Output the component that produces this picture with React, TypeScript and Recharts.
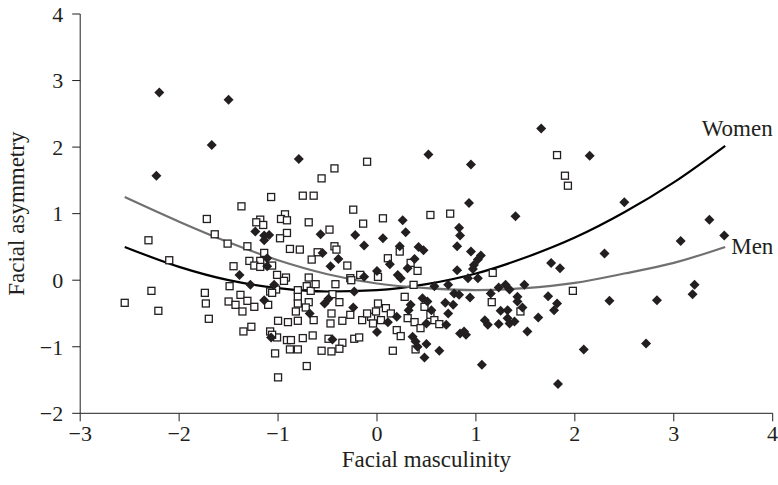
import React from 'react';
import { ComposedChart, Scatter, Line, XAxis, YAxis } from 'recharts';

// open squares
const womenPoints: [number, number][] = [
  [-1.07, 1.25], [-1.37, 1.11], [-1.72, 0.92], [-2.31, 0.6], [-2.1, 0.3], [-1.64, 0.69], [-1.51, 0.55],
  [-1.31, 0.51], [-1.45, 0.21], [-1.18, 0.91], [-1.22, 0.87], [-1.15, 0.83], [-1.14, 0.41], [-1.29, 0.29],
  [-1.18, 0.29], [-1.24, 0.22], [-1.18, 0.2], [-1.06, 0.22], [-1.01, 0.08],
  [-2.28, -0.16], [-2.55, -0.34], [-2.21, -0.46], [-1.74, -0.19], [-1.73, -0.35], [-1.7, -0.58], [-1.49, -0.09],
  [-1.08, -0.17], [-1.02, -0.14], [-1.5, -0.32], [-1.43, -0.37], [-1.38, -0.22], [-1.31, -0.31], [-1.36, -0.47],
  [-1.24, -0.4], [-1.1, -0.37], [-1.35, -0.77], [-1.27, -0.7], [-1.0, -0.61], [-1.08, -0.77], [-1.01, -0.86],
  [-1.03, -1.1], [-1.0, -1.46],
  [-0.43, 1.68], [-0.1, 1.78], [-0.56, 1.53], [-0.75, 1.27], [-0.64, 1.27], [-0.24, 1.06], [-0.14, 0.85],
  [0.06, 0.93], [-0.93, 0.99], [-0.97, 0.92], [-0.91, 0.9], [-0.69, 0.87], [-0.91, 0.71], [-0.98, 0.63],
  [-0.48, 0.76], [-0.88, 0.47], [-0.78, 0.46], [-0.6, 0.42], [-0.66, 0.31], [-0.43, 0.51], [-0.41, 0.46],
  [-0.3, 0.22], [0.23, 0.43], [0.11, 0.33], [0.34, 0.26], [0.41, 0.14], [-0.17, 0.08], [-0.27, 0.03],
  [0.01, 0.05], [-0.69, 0.04], [-0.92, 0.04],
  [-0.94, -0.01], [-1.06, -0.19], [-0.8, -0.15], [-0.71, -0.09], [-0.67, -0.16], [-0.62, -0.06], [-0.8, -0.25],
  [-0.8, -0.35], [-0.69, -0.33], [-0.72, -0.41], [-0.82, -0.47], [-0.45, -0.21], [-0.42, -0.06], [-0.38, -0.33],
  [-0.26, 0.0], [-0.64, -0.6], [-0.9, -0.63], [-0.8, -0.61], [-0.46, -0.5], [-0.47, -0.65], [-0.35, -0.61],
  [-0.27, -0.52], [-0.15, -0.6], [-0.06, -0.55], [-0.1, -0.5], [-0.01, -0.47], [0.01, -0.35], [-0.04, -0.65],
  [0.04, -0.6], [0.09, -0.42], [0.14, -0.5], [0.31, -0.57], [0.38, -0.63], [0.28, -0.25], [0.37, -0.07],
  [0.2, -0.75], [0.24, -0.84], [0.16, -1.06], [-1.06, -0.82], [-0.91, -0.9], [-0.87, -0.9], [-0.75, -0.87],
  [-0.65, -0.83], [-0.49, -0.88], [-0.35, -0.94], [-0.23, -0.88], [-0.18, -0.86], [-0.88, -1.04], [-0.8, -1.04],
  [-0.56, -1.06], [-0.46, -1.07], [-0.38, -1.03], [-0.71, -1.29],
  [1.82, 1.88], [0.54, 0.98], [0.74, 1.0], [1.17, 0.11], [1.16, -0.33], [1.45, -0.47], [0.48, -0.4],
  [0.54, -0.52], [0.44, -0.72], [0.58, -0.6], [0.63, -0.66], [0.39, -1.04], [1.9, 1.57], [1.93, 1.42],
  [1.98, -0.16],
];

// filled diamonds
const menPoints: [number, number][] = [
  [-2.2, 2.82], [-1.5, 2.71], [-1.67, 2.03], [1.66, 2.28],
  [-2.23, 1.57], [-1.39, 0.08], [-1.23, 0.73], [-1.14, 0.67], [-1.09, 0.68], [-1.14, 0.6], [-1.11, 0.33],
  [-1.11, 0.21], [-1.28, -0.07], [-1.04, -0.07], [-1.14, -0.3], [-1.07, -0.86],
  [-0.79, 1.82], [0.26, 0.9], [0.29, 0.72], [-0.57, 0.69], [-0.22, 0.68], [0.06, 0.63], [-0.13, 0.52],
  [-0.55, 0.41], [-0.39, 0.32], [-0.47, 0.21], [0.23, 0.51], [0.42, 0.5], [0.13, 0.24], [0.38, 0.32],
  [0.31, 0.18], [0.21, 0.08], [0.24, 0.03], [0.0, 0.14], [-0.13, 0.05],
  [-0.53, -0.35], [-0.49, -0.28], [-0.23, -0.17], [-0.24, -0.41], [-0.68, -0.5], [0.11, -0.63], [0.2, -0.55],
  [0.32, -0.45], [0.34, -0.37], [0.0, -0.78], [0.36, -0.85], [0.41, -1.0], [-0.45, -0.89],
  [0.52, 1.89], [0.95, 1.74], [0.93, 1.16], [1.4, 0.96], [0.83, 0.79], [0.84, 0.67], [0.81, 0.51],
  [0.47, 0.45], [0.95, 0.43], [1.05, 0.37], [1.02, 0.31], [0.98, 0.23], [0.97, 0.17], [0.81, 0.15],
  [1.76, 0.26], [1.85, 0.18], [0.92, 0.03], [1.02, 0.03],
  [0.58, -0.09], [0.72, -0.07], [1.23, -0.11], [1.3, -0.07], [1.34, -0.14], [1.49, -0.07], [0.78, -0.2],
  [0.83, -0.22], [0.94, -0.26], [1.15, -0.2], [1.42, -0.25], [1.42, -0.32], [1.47, -0.41], [1.73, -0.24],
  [1.82, -0.35], [1.79, -0.45], [0.46, -0.27], [0.51, -0.32], [0.55, -0.45], [0.69, -0.34], [0.77, -0.37],
  [0.72, -0.5], [0.7, -0.67], [0.5, -0.65], [1.25, -0.46], [1.32, -0.45], [1.32, -0.57], [1.39, -0.62],
  [1.34, -0.65], [1.63, -0.56], [1.09, -0.6], [1.12, -0.67], [1.23, -0.66], [1.52, -0.77], [0.84, -0.8],
  [0.9, -0.82], [0.88, -0.77], [0.39, -0.92], [0.5, -0.96], [0.63, -1.06], [0.48, -1.16], [1.06, -1.27],
  [1.83, -1.56],
  [2.15, 1.87], [2.5, 1.17], [3.36, 0.91], [3.51, 0.67], [3.07, 0.59], [2.3, 0.4],
  [2.35, -0.31], [2.83, -0.3], [3.21, -0.07], [3.19, -0.21], [2.09, -1.04], [2.72, -0.95],
];

// fitted curves
const curveX = [-2.55, -2, -1.5, -1, -0.5, 0, 0.5, 1, 1.5, 2, 2.5, 3, 3.52];
const womenCurveY = [0.5, 0.2, 0.0, -0.12, -0.17, -0.15, -0.06, 0.1, 0.34, 0.64, 1.02, 1.47, 2.02];
const menCurveY = [1.25, 0.88, 0.57, 0.3, 0.09, -0.05, -0.12, -0.15, -0.12, -0.04, 0.1, 0.26, 0.5];

const xTicks = [-3, -2, -1, 0, 1, 2, 3, 4];
const yTicks = [-2, -1, 0, 1, 2, 3, 4];

const ink = '#231f20';
const font = '"Liberation Serif", "DejaVu Serif", serif';

const womenData = womenPoints.map(([x, y]) => ({ x, y }));
const menData = menPoints.map(([x, y]) => ({ x, y }));
const womenCurve = curveX.map((x, i) => ({ x, y: womenCurveY[i] }));
const menCurve = curveX.map((x, i) => ({ x, y: menCurveY[i] }));

const minus = (v: number) => (v < 0 ? `\u2212${Math.abs(v)}` : `${v}`);

const Square = (props: any) => {
  const { cx, cy } = props;
  if (cx == null || cy == null) return null;
  return <rect x={cx - 3.5} y={cy - 3.5} width={7} height={7} fill="#fff" stroke={ink} strokeWidth={1.3} />;
};

const Diamond = (props: any) => {
  const { cx, cy } = props;
  if (cx == null || cy == null) return null;
  const r = 5;
  return <polygon points={`${cx},${cy - r} ${cx + r},${cy} ${cx},${cy + r} ${cx - r},${cy}`} fill={ink} />;
};

const endLabel = (text: string, dx: number, dy: number, anchor: string) => (props: any) => {
  const { x, y, index } = props;
  if (index !== curveX.length - 1) return null;
  return (
    <text x={x + dx} y={y + dy} textAnchor={anchor} fontFamily={font} fontSize={23} fill={ink}>
      {text}
    </text>
  );
};

export default function App() {
  return (
    <div style={{ position: 'absolute', left: 0, top: 0, width: 778, height: 485 }}>
      <ComposedChart
        width={778}
        height={485}
        margin={{ top: 14, right: 5.3, bottom: 21.7, left: 20.2 }}
        style={{ overflow: 'visible' }}
      >
        <XAxis
          type="number"
          dataKey="x"
          domain={[-3, 4]}
          ticks={xTicks}
          height={50}
          stroke={ink}
          tickSize={8}
          tickMargin={4}
          tick={{ fill: ink, fontSize: 22, fontFamily: font }}
          tickFormatter={minus}
          label={{ value: 'Facial masculinity', position: 'insideBottom', offset: -4, fill: ink, fontSize: 23, fontFamily: font }}
        />
        <YAxis
          type="number"
          dataKey="y"
          domain={[-2, 4]}
          ticks={yTicks}
          width={60}
          stroke={ink}
          tickSize={8}
          tickMargin={9}
          tick={{ fill: ink, fontSize: 22, fontFamily: font }}
          tickFormatter={minus}
          label={{ value: 'Facial asymmetry', angle: -90, position: 'insideLeft', offset: -4, fill: ink, fontSize: 23, fontFamily: font, style: { textAnchor: 'middle' } }}
        />
        <Scatter data={womenData} shape={<Square />} isAnimationActive={false} />
        <Scatter data={menData} shape={<Diamond />} isAnimationActive={false} />
        <Line
          data={womenCurve}
          dataKey="y"
          type="monotone"
          stroke="#000"
          strokeWidth={2.2}
          dot={false}
          activeDot={false}
          isAnimationActive={false}
          label={endLabel('Women', 12, -10, 'middle')}
        />
        <Line
          data={menCurve}
          dataKey="y"
          type="monotone"
          stroke="#707070"
          strokeWidth={2.2}
          dot={false}
          activeDot={false}
          isAnimationActive={false}
          label={endLabel('Men', 6, 7, 'start')}
        />
      </ComposedChart>
    </div>
  );
}
